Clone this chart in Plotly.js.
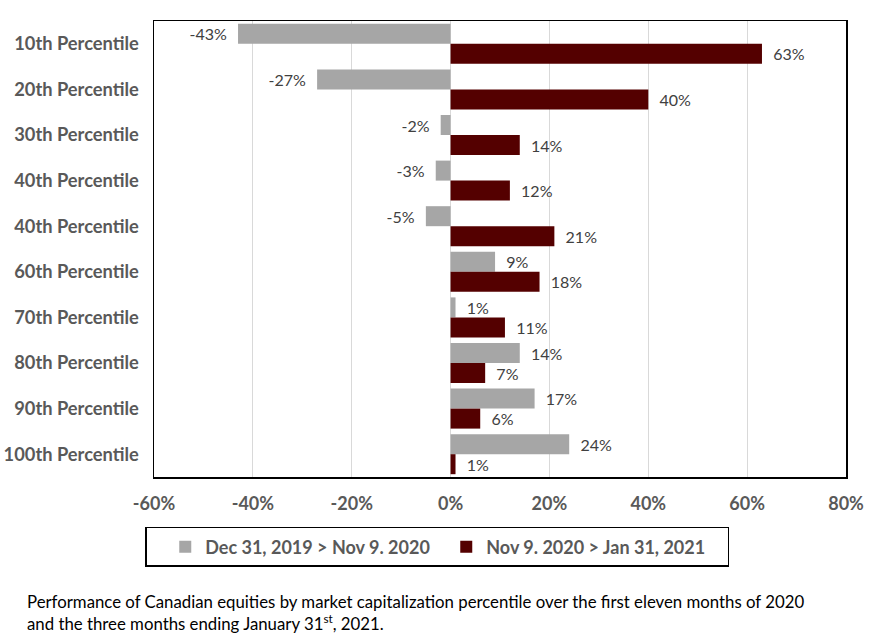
<!DOCTYPE html>
<html>
<head>
<meta charset="utf-8">
<script src="https://cdn.plot.ly/plotly-3.0.1.min.js"></script>
<style>
html,body{margin:0;padding:0;background:#fff;}
#chart{width:878px;height:642px;}
</style>
</head>
<body>
<div id="chart"></div>
<script>
const categories = ["10th Percentile","20th Percentile","30th Percentile","40th Percentile","40th Percentile","60th Percentile","70th Percentile","80th Percentile","90th Percentile","100th Percentile"];
const seriesNames = ["Dec 31, 2019 > Nov 9. 2020","Nov 9. 2020 > Jan 31, 2021"];
const period1 = [-43,-27,-2,-3,-5,9,1,14,17,24];
const period2 = [63,40,14,12,21,18,11,7,6,1];
const xTickVals = [-60,-40,-20,0,20,40,60,80];
const caption = "Performance of Canadian equities by market capitalization percentile over the first eleven months of 2020<br>and the three months ending January 31<sup>st</sup>, 2021.";

const FONT = "Lato, 'Open Sans', sans-serif";
const NB = "\u00A0\u00A0";
const idx = categories.map((_, i) => i);

function labels(vals){
  return vals.map(v => v < 0 ? (v + "%" + NB) : (NB + v + "%"));
}

const common = {
  type: "bar", orientation: "h", y: idx,
  textposition: "outside", cliponaxis: false, constraintext: "none",
  textfont: {family: FONT, size: 16, color: "#404040"},
  hoverinfo: "skip"
};

const data = [
  Object.assign({}, common, {name: seriesNames[0], x: period1, text: labels(period1), marker: {color: "#A6A6A6"}}),
  Object.assign({}, common, {name: seriesNames[1], x: period2, text: labels(period2), marker: {color: "#540000"}})
];

const layout = {
  width: 878, height: 642,
  margin: {l: 154, r: 32, t: 21, b: 165},
  paper_bgcolor: "#fff", plot_bgcolor: "#fff",
  barmode: "group", bargap: 0.123, bargroupgap: 0,
  font: {family: FONT, color: "#595959"},
  showlegend: true,
  xaxis: {
    range: [-60, 80], tickvals: xTickVals, ticktext: xTickVals.map(v => v + "%"),
    showgrid: true, gridcolor: "#D9D9D9", gridwidth: 1,
    zeroline: true, zerolinecolor: "#D9D9D9", zerolinewidth: 1,
    showline: true, mirror: true, linecolor: "#000", linewidth: 1.5,
    ticks: "", tickfont: {family: FONT, size: 18, color: "#595959", weight: "bold"},
    ticklabelstandoff: 10, fixedrange: true
  },
  yaxis: {
    tickvals: idx, ticktext: categories, autorange: "reversed",
    showgrid: false, zeroline: false,
    showline: true, mirror: true, linecolor: "#000", linewidth: 1.5,
    ticks: "", tickfont: {family: FONT, size: 18.3, color: "#595959", weight: "bold"},
    ticklabelstandoff: 10, fixedrange: true
  },
  legend: {
    orientation: "h", x: -0.013, xanchor: "left", y: -0.1096, yanchor: "top",
    bordercolor: "#000", borderwidth: 1.5, bgcolor: "#fff",
    font: {family: FONT, size: 18, color: "#595959", weight: "bold"},
    title: {text: "\u00A0\u00A0", font: {family: FONT, size: 18}},
    itemwidth: 30, entrywidthmode: "pixels", entrywidth: 236,
    traceorder: "normal"
  },
  annotations: [{
    text: caption, xref: "paper", yref: "paper", x: -0.187, y: -0.245,
    xanchor: "left", yanchor: "top", align: "left", showarrow: false,
    font: {family: FONT, size: 16.8, color: "#000"}
  }]
};

Plotly.newPlot("chart", data, layout, {displayModeBar: false, staticPlot: true});
</script>
</body>
</html>
